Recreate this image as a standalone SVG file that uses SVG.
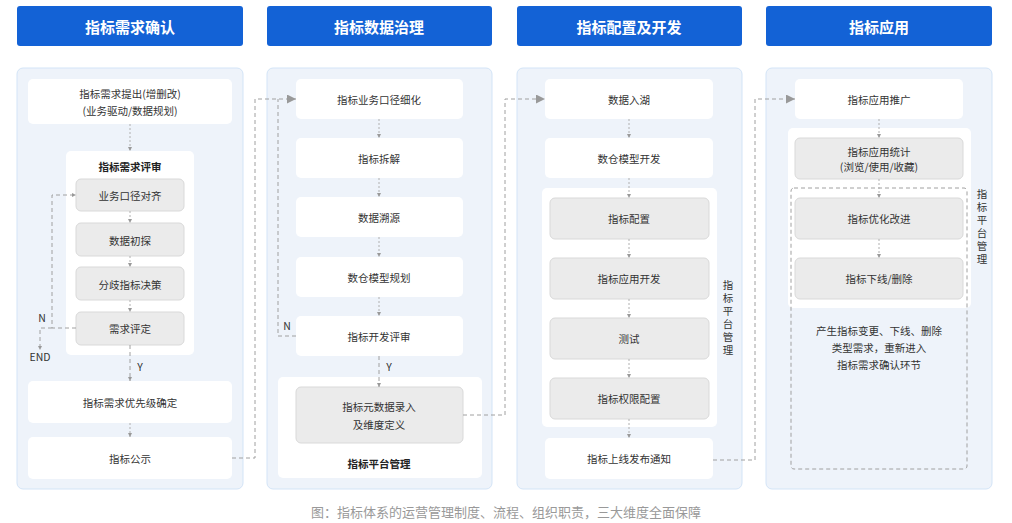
<svg xmlns="http://www.w3.org/2000/svg" width="1012" height="523" viewBox="0 0 1012 523">
<defs>
<style>
text{font-family:"Noto Sans CJK SC","Noto Sans",sans-serif;fill:#333;font-size:10.5px;text-anchor:middle;dominant-baseline:central}
.hd rect{fill:#1362D6}
.hd text{fill:#fff;font-size:15px;font-weight:bold}
.panel{fill:#EEF3FA;stroke:#D3E4F7;stroke-width:1}
.w{fill:#fff}
.g{fill:#EBEBEB;stroke:#D9D9D9;stroke-width:1}
.b{font-weight:bold;fill:#222}
.c{fill:none;stroke:#A0A0A0;stroke-width:1;stroke-dasharray:4 3}
.s{fill:none;stroke:#B0B0B0;stroke-width:1;stroke-dasharray:2 2}
</style>
<marker id="a" viewBox="0 0 10 10" refX="10" refY="5" markerWidth="4" markerHeight="4" orient="auto"><path d="M0,0L10,5L0,10z" fill="#999"/></marker>
<marker id="A" viewBox="0 0 10 10" refX="10" refY="5" markerWidth="9" markerHeight="9" orient="auto"><path d="M0,0L10,5L0,10z" fill="#999"/></marker>
</defs>
<rect width="1012" height="523" fill="#fff"/>
<g class="hd" id="headers">
<rect x="17" y="6" width="226" height="40" rx="3"/><text x="130" y="26">指标需求确认</text>
<rect x="267" y="6" width="225" height="40" rx="3"/><text x="379" y="26">指标数据治理</text>
<rect x="517" y="6" width="225" height="40" rx="3"/><text x="629" y="26">指标配置及开发</text>
<rect x="766" y="6" width="226" height="40" rx="3"/><text x="879" y="26">指标应用</text>
</g>
<g id="panels">
<rect class="panel" x="17" y="68" width="226" height="421" rx="6"/>
<rect class="panel" x="267" y="68" width="225" height="421" rx="6"/>
<rect class="panel" x="517" y="68" width="225" height="421" rx="6"/>
<rect class="panel" x="766" y="68" width="226" height="421" rx="6"/>
</g>
<g id="col1">
<g id="n1"><rect class="w" x="28" y="79" width="204" height="45" rx="5"/><text x="130" y="93">指标需求提出(增删改)</text><text x="130" y="110">(业务驱动/数据规划)</text></g>
<g id="review"><rect class="w" x="66" y="151" width="128" height="204" rx="5"/><text class="b" x="130" y="166">指标需求评审</text>
<g id="n2"><rect class="g" x="76" y="179" width="108" height="32" rx="5"/><text x="130" y="195">业务口径对齐</text></g>
<g id="n3"><rect class="g" x="76" y="223" width="108" height="33" rx="5"/><text x="130" y="240">数据初探</text></g>
<g id="n4"><rect class="g" x="76" y="267" width="108" height="33" rx="5"/><text x="130" y="284">分歧指标决策</text></g>
<g id="n5"><rect class="g" x="76" y="312" width="108" height="33" rx="5"/><text x="130" y="328">需求评定</text></g>
</g>
<g id="n6"><rect class="w" x="28" y="381" width="204" height="42" rx="5"/><text x="130" y="402">指标需求优先级确定</text></g>
<g id="n7"><rect class="w" x="28" y="437" width="204" height="42" rx="5"/><text x="130" y="458">指标公示</text></g>
</g>
<g id="col2">
<g id="m1"><rect class="w" x="296" y="79" width="167" height="40" rx="5"/><text x="379" y="99">指标业务口径细化</text></g>
<g id="m2"><rect class="w" x="296" y="138" width="167" height="40" rx="5"/><text x="379" y="158">指标拆解</text></g>
<g id="m3"><rect class="w" x="296" y="197" width="167" height="40" rx="5"/><text x="379" y="217">数据溯源</text></g>
<g id="m4"><rect class="w" x="296" y="257" width="167" height="40" rx="5"/><text x="379" y="277">数仓模型规划</text></g>
<g id="m5"><rect class="w" x="296" y="316" width="167" height="40" rx="5"/><text x="379" y="336">指标开发评审</text></g>
<g id="plat2"><rect class="w" x="278" y="377" width="204" height="101" rx="5"/>
<g id="m6"><rect class="g" x="296" y="387" width="167" height="56" rx="5"/><text x="379" y="406">指标元数据录入</text><text x="379" y="424">及维度定义</text></g>
<text class="b" x="379" y="463">指标平台管理</text></g>
</g>
<g id="col3">
<g id="p1"><rect class="w" x="545" y="79" width="168" height="40" rx="5"/><text x="629" y="99">数据入湖</text></g>
<g id="p2"><rect class="w" x="545" y="138" width="168" height="40" rx="5"/><text x="629" y="158">数仓模型开发</text></g>
<g id="plat3"><rect class="w" x="542" y="188" width="175" height="239" rx="5"/>
<g id="p3"><rect class="g" x="550" y="198" width="159" height="41" rx="5"/><text x="629" y="218">指标配置</text></g>
<g id="p4"><rect class="g" x="550" y="258" width="159" height="41" rx="5"/><text x="629" y="278">指标应用开发</text></g>
<g id="p5"><rect class="g" x="550" y="318" width="159" height="41" rx="5"/><text x="629" y="338">测试</text></g>
<g id="p6"><rect class="g" x="550" y="378" width="159" height="41" rx="5"/><text x="629" y="398">指标权限配置</text></g>
</g>
<text x="728" y="284">指</text><text x="728" y="297">标</text><text x="728" y="310">平</text><text x="728" y="323">台</text><text x="728" y="336">管</text><text x="728" y="349">理</text>
<g id="p7"><rect class="w" x="545" y="438" width="168" height="41" rx="5"/><text x="629" y="458">指标上线发布通知</text></g>
</g>
<g id="col4">
<g id="q1"><rect class="w" x="795" y="79" width="168" height="40" rx="5"/><text x="879" y="99">指标应用推广</text></g>
<rect class="w" x="788" y="128" width="183" height="180" rx="5"/>
<g id="q2"><rect class="g" x="795" y="138" width="168" height="41" rx="5"/><text x="879" y="151">指标应用统计</text><text x="879" y="166">(浏览/使用/收藏)</text></g>
<g id="q3"><rect class="g" x="795" y="198" width="168" height="41" rx="5"/><text x="879" y="218">指标优化改进</text></g>
<g id="q4"><rect class="g" x="795" y="258" width="168" height="41" rx="5"/><text x="879" y="278">指标下线/删除</text></g>
<rect class="c" x="791" y="188" width="176" height="281" rx="3"/>
<text x="982" y="193">指</text><text x="982" y="206">标</text><text x="982" y="219">平</text><text x="982" y="232">台</text><text x="982" y="245">管</text><text x="982" y="258">理</text>
<text x="879" y="330">产生指标变更、下线、删除</text>
<text x="879" y="347">类型需求，重新进入</text>
<text x="879" y="364">指标需求确认环节</text>
</g>
<g id="connectors">
<path class="s" d="M130,124V151" marker-end="url(#a)"/>
<path class="s" d="M130,211V223" marker-end="url(#a)"/>
<path class="s" d="M130,256V267" marker-end="url(#a)"/>
<path class="s" d="M130,300V312" marker-end="url(#a)"/>
<path class="c" d="M130,345V381" marker-end="url(#a)"/>
<path class="s" d="M130,423V437" marker-end="url(#a)"/>
<path class="c" d="M76,328H52V195H76" marker-end="url(#a)"/>
<path class="c" d="M52,328H40V350" marker-end="url(#a)"/>
<text x="42" y="317">N</text><text x="40" y="356">END</text><text x="140" y="366">Y</text>
<path class="c" d="M232,458H255V99H296" marker-end="url(#A)"/>
<path class="s" d="M379,119V138" marker-end="url(#a)"/>
<path class="s" d="M379,178V197" marker-end="url(#a)"/>
<path class="s" d="M379,237V257" marker-end="url(#a)"/>
<path class="s" d="M379,297V316" marker-end="url(#a)"/>
<path class="c" d="M379,356V387" marker-end="url(#a)"/>
<path class="c" d="M296,336H278V99"/>
<text x="287" y="325">N</text><text x="389" y="366">Y</text>
<path class="c" d="M463,415H505V99H545" marker-end="url(#A)"/>
<path class="s" d="M629,119V138" marker-end="url(#a)"/>
<path class="s" d="M629,178V198" marker-end="url(#a)"/>
<path class="s" d="M629,239V258" marker-end="url(#a)"/>
<path class="s" d="M629,299V318" marker-end="url(#a)"/>
<path class="s" d="M629,359V378" marker-end="url(#a)"/>
<path class="s" d="M629,419V438" marker-end="url(#a)"/>
<path class="c" d="M713,460H755V99H795" marker-end="url(#A)"/>
<path class="s" d="M879,119V138" marker-end="url(#a)"/>
<path class="s" d="M879,179V198" marker-end="url(#a)"/>
<path class="s" d="M879,239V258" marker-end="url(#a)"/>
</g>
<text x="506" y="511" style="fill:#999;font-size:13px">图：指标体系的运营管理制度、流程、组织职责，三大维度全面保障</text>
</svg>
